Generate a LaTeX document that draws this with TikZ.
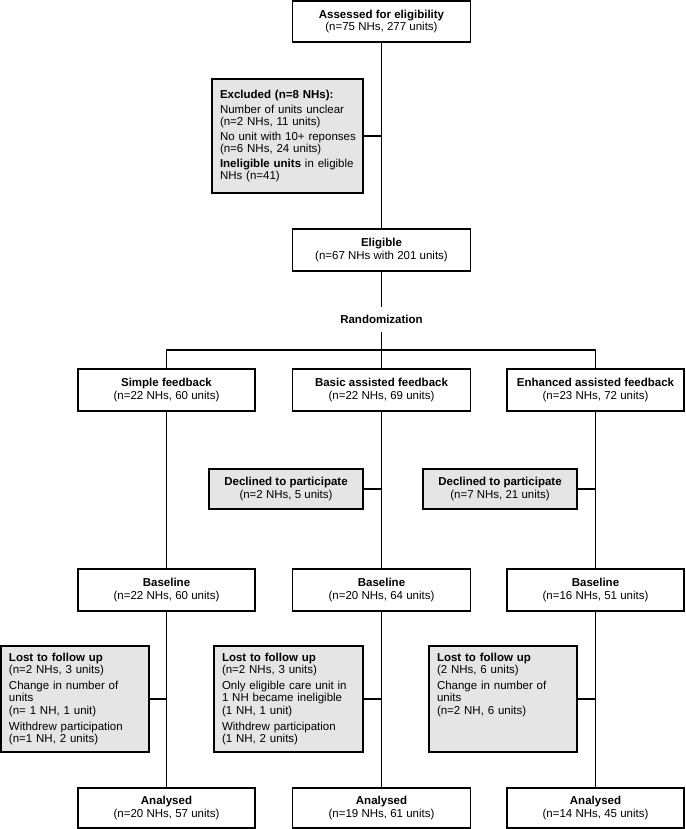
\documentclass[tikz,border=0pt]{standalone}
\usepackage{fontspec}
\setmainfont{Liberation Sans}
\begin{document}
\begin{tikzpicture}[x=1pt,y=-1pt,
  every node/.style={font=\fontsize{11.5}{12.3}\selectfont},
  wbox/.style={draw, line width=1.4pt, fill=white, align=center, inner sep=0pt},
  gbox/.style={draw, line width=1.4pt, fill=gray!20, align=left, inner xsep=8pt, inner ysep=0pt},
  conn/.style={line width=1.4pt}]
\useasboundingbox (0,0) rectangle (685,829);

% top part
\node[wbox, minimum width=178, minimum height=41] (assessed) at (381.5,21.5)
  {\textbf{Assessed for eligibility}\\(n=75 NHs, 277 units)};
\node[gbox, text width=135, minimum height=114] (excluded) at (287.5,136)
  {\textbf{Excluded (n=8 NHs):}\\[2.3pt]Number of units unclear\\(n=2 NHs, 11 units)\\[2.3pt]\mbox{No unit with 10+ reponses}\\(n=6 NHs, 24 units)\\[2.3pt]\mbox{\textbf{Ineligible units} in eligible}\\NHs (n=41)};
\node[wbox, minimum width=178, minimum height=42] (eligible) at (381.5,250)
  {\textbf{Eligible}\\(n=67 NHs with 201 units)};
\node[inner sep=0pt, minimum height=25] (rand) at (381.5,319.5) {\textbf{Randomization}};
\coordinate (split) at (381.5,350);

% arms
\node[wbox, minimum width=177, minimum height=42] (simple) at (166.5,390)
  {\textbf{Simple feedback}\\(n=22 NHs, 60 units)};
\node[wbox, minimum width=178, minimum height=42] (basic) at (381.5,390)
  {\textbf{Basic assisted feedback}\\(n=22 NHs, 69 units)};
\node[wbox, minimum width=177, minimum height=42] (enh) at (595.5,390)
  {\textbf{Enhanced assisted feedback}\\(n=23 NHs, 72 units)};

\node[gbox, align=center, inner xsep=0pt, minimum width=154, minimum height=40] (decl2) at (286,489)
  {\textbf{Declined to participate}\\(n=2 NHs, 5 units)};
\node[gbox, align=center, inner xsep=0pt, minimum width=154, minimum height=40] (decl3) at (500,489)
  {\textbf{Declined to participate}\\(n=7 NHs, 21 units)};

\node[wbox, minimum width=177, minimum height=42] (base1) at (166.5,590)
  {\textbf{Baseline}\\(n=22 NHs, 60 units)};
\node[wbox, minimum width=178, minimum height=42] (base2) at (381.5,590)
  {\textbf{Baseline}\\(n=20 NHs, 64 units)};
\node[wbox, minimum width=177, minimum height=42] (base3) at (595.5,590)
  {\textbf{Baseline}\\(n=16 NHs, 51 units)};

\node[gbox, text width=132, minimum height=106] (lost1) at (75,699)
  {\textbf{Lost to follow up}\\(n=2 NHs, 3 units)\\[3.7pt]Change in number of\\units\\(n= 1 NH, 1 unit)\\[3.7pt]\mbox{Withdrew participation}\\(n=1 NH, 2 units)};
\node[gbox, text width=133, minimum height=106] (lost2) at (288.5,699)
  {\textbf{Lost to follow up}\\(n=2 NHs, 3 units)\\[3.7pt]\mbox{Only eligible care unit in}\\\mbox{1 NH became ineligible}\\(1 NH, 1 unit)\\[3.7pt]\mbox{Withdrew participation}\\(1 NH, 2 units)};
\node[gbox, text width=132, minimum height=106] (lost3) at (503,699)
  {\textbf{Lost to follow up}\\(2 NHs, 6 units)\\[3.7pt]Change in number of\\units\\(n=2 NH, 6 units)\\[3.7pt]\phantom{(}\\\phantom{(}};

\node[wbox, minimum width=177, minimum height=40] (ana1) at (166.5,808)
  {\textbf{Analysed}\\(n=20 NHs, 57 units)};
\node[wbox, minimum width=178, minimum height=40] (ana2) at (381.5,808)
  {\textbf{Analysed}\\(n=19 NHs, 61 units)};
\node[wbox, minimum width=177, minimum height=40] (ana3) at (595.5,808)
  {\textbf{Analysed}\\(n=14 NHs, 45 units)};

% connectors
\draw[conn] (assessed.south) -- (eligible.north);
\draw[conn] (excluded.east) -- (excluded.east -| assessed.south);
\draw[conn] (eligible.south) -- (rand.north);
\draw[conn] (rand.south) -- (split);
\draw[conn] (simple.north) |- (split) -| (enh.north);
\draw[conn] (split) -- (basic.north);
\draw[conn] (simple.south) -- (base1.north);
\draw[conn] (basic.south) -- (base2.north);
\draw[conn] (enh.south) -- (base3.north);
\draw[conn] (decl2.east) -- (decl2.east -| basic.south);
\draw[conn] (decl3.east) -- (decl3.east -| enh.south);
\draw[conn] (base1.south) -- (ana1.north);
\draw[conn] (base2.south) -- (ana2.north);
\draw[conn] (base3.south) -- (ana3.north);
\draw[conn] (lost1.east) -- (lost1.east -| base1.south);
\draw[conn] (lost2.east) -- (lost2.east -| base2.south);
\draw[conn] (lost3.east) -- (lost3.east -| base3.south);
\end{tikzpicture}
\end{document}
